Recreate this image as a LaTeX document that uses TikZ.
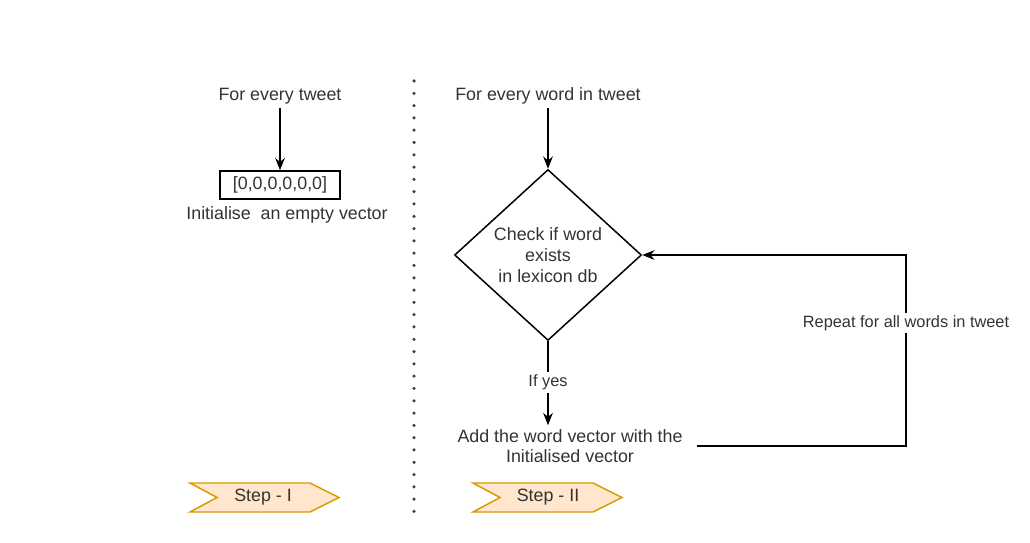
\documentclass[tikz,border=0pt]{standalone}
\usepackage{fontspec}
\setmainfont{Liberation Sans}
\usetikzlibrary{arrows.meta,shapes.geometric}
\definecolor{stepfill}{HTML}{FFE6CC}
\definecolor{stepline}{HTML}{D79B00}
\definecolor{ink}{HTML}{333333}
\begin{document}
\begin{tikzpicture}[x=0.02cm, y=-0.02cm,
    font=\fontsize{10.15}{11.8}\selectfont, text=ink,
    flow/.style={line width=0.85pt, -{Stealth[length=7pt, width=5.5pt]}},
    plain/.style={inner sep=2pt, align=center},
    small/.style={font=\fontsize{9.3}{11}\selectfont, fill=white, inner sep=1.5pt},
    stepbox/.style={fill=stepfill, draw=stepline, line width=0.85pt, line join=miter}]
                \useasboundingbox (0,0) rectangle (1030,543);

                % --- STEP I ---
                \node[plain] (tweet) at (280,96) {For every tweet};
                \node[draw, line width=0.85pt, minimum width=2.4cm, minimum height=0.56cm, inner sep=0pt] (vec) at (280,185) {[0,0,0,0,0,0]};
                \node[plain] (init) at (287,215) {Initialise\ \ an empty vector};
                \draw[flow] (tweet) -- (vec);

                % separator
                \draw[line width=2pt, line cap=round, dash pattern=on 0pt off 7pt, black!75] (414,81) -- (414,512);

                % --- STEP II ---
                \node[plain] (word) at (548,96) {For every word in tweet};
                \node[diamond, draw, line width=0.85pt, aspect=1.09, minimum width=3.74cm, minimum height=3.42cm, inner sep=0pt, align=center] (check) at (548,255) {Check if word\\exists\\in lexicon db};
                \node[plain, inner xsep=0.28cm] (add) at (570,446) {Add the word vector with the\\Initialised vector};
                \draw[flow] (word) -- (check);
                \draw[flow] (check.south) -- node[small, pos=0.49] (yes) {If yes} (check.south |- add.north);

                % loop back
                \coordinate (corner) at (906,446);
                \draw[flow] (add.east) -- (corner) |- (check.east);
                \node[small] (repeat) at (906,323) {Repeat for all words in tweet};

                % --- STEP TAGS ---
                \draw[stepbox] (190,483) -- (310,483) -- (339,497.5) -- (310,512) -- (190,512) -- (217,497.5) -- cycle;
                \node (stepone) at (263,497.5) {Step - I};
                \draw[stepbox] (473,483) -- (593,483) -- (622,497.5) -- (593,512) -- (473,512) -- (500,497.5) -- cycle;
                \node (steptwo) at (548,497.5) {Step - II};
\end{tikzpicture}
\end{document}
